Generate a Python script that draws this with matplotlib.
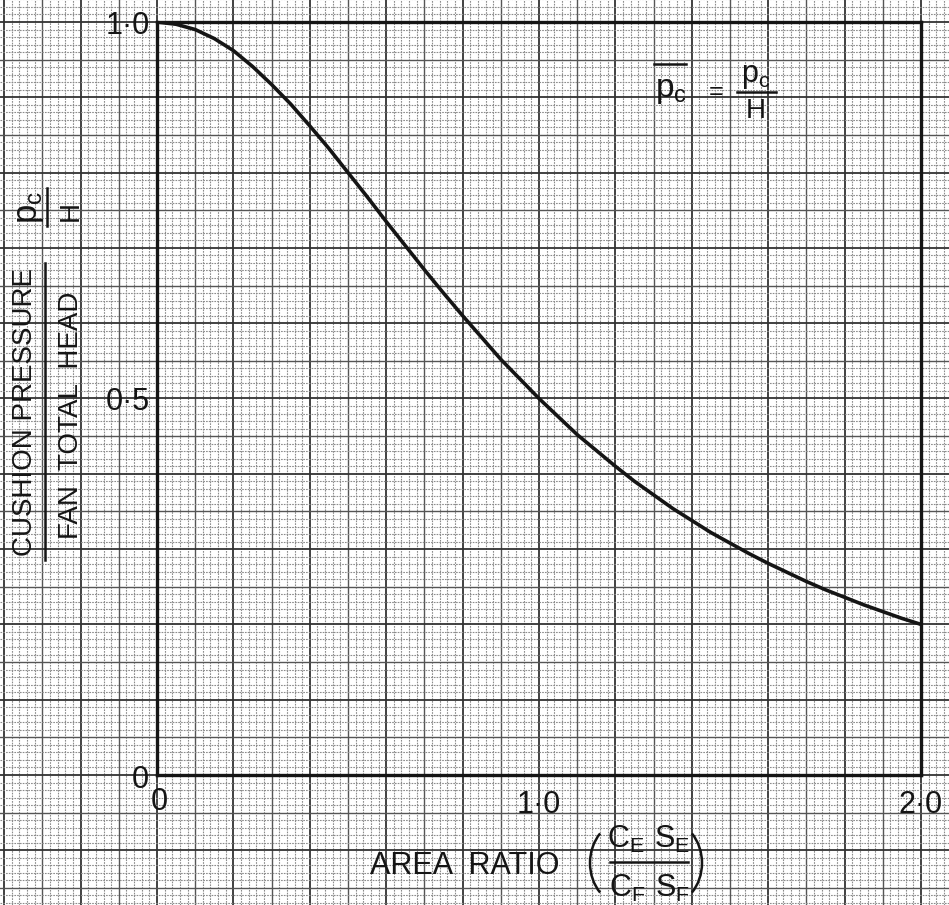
import numpy as np
import matplotlib
matplotlib.use("Agg")
import matplotlib.pyplot as plt
from matplotlib.lines import Line2D
from matplotlib.patches import Arc

plt.rcParams['font.family'] = ['Liberation Sans', 'DejaVu Sans']

# area ratio (CE SE / CF SF) and cushion pressure ratio pc / H
area_ratio = [0.0, 0.05, 0.1, 0.15, 0.2, 0.25, 0.3, 0.35, 0.4, 0.45, 0.5,
              0.55, 0.6, 0.65, 0.7, 0.75, 0.8, 0.85, 0.9, 0.95, 1.0,
              1.05, 1.1, 1.15, 1.2, 1.25, 1.3, 1.35, 1.4, 1.45, 1.5,
              1.55, 1.6, 1.65, 1.7, 1.75, 1.8, 1.85, 1.9, 1.95, 2.0]
pressure_ratio = [1.0, 0.997, 0.990, 0.978, 0.962, 0.941, 0.917, 0.891, 0.862, 0.832, 0.800,
                  0.768, 0.735, 0.703, 0.671, 0.640, 0.610, 0.581, 0.552, 0.526, 0.500,
                  0.476, 0.452, 0.431, 0.410, 0.390, 0.372, 0.354, 0.338, 0.322, 0.308,
                  0.294, 0.281, 0.269, 0.257, 0.246, 0.236, 0.226, 0.217, 0.208, 0.200]
x_ticks = [1.0, 2.0]
x_tick_labels = ["1·0", "2·0"]
y_ticks = [0.5, 1.0]
y_tick_labels = ["0·5", "1·0"]

W, H = 949, 905
fig = plt.figure(figsize=(W / 100, H / 100), dpi=100)
fig.patch.set_facecolor("white")

# plot frame in pixels of the original sheet
left, right, bottom, top = 157, 921, 775, 22
pos = [left / W, 1 - bottom / H, (right - left) / W, (bottom - top) / H]
xmin, xmax, ymin, ymax = 0.0, 2.0, 0.0, 1.0

# graph paper behind everything, on the same scale as the plot
bg = fig.add_axes([0, 0, 1, 1], zorder=0)
sx = (xmax - xmin) / (pos[2])
sy = (ymax - ymin) / (pos[3])
bx0 = xmin - pos[0] * sx
bx1 = xmax + (1 - pos[0] - pos[2]) * sx
by0 = ymin - pos[1] * sy
by1 = ymax + (1 - pos[1] - pos[3]) * sy
bg.set_xlim(bx0, bx1)
bg.set_ylim(by0, by1)
bg.axis("off")

def paper(step, lo, hi, vertical):
    for k in range(int(np.floor(lo / step)) - 1, int(np.ceil(hi / step)) + 2):
        v = k * step
        if k % 10 == 0:
            kw = dict(color="#333333", lw=1.3)
        elif k % 5 == 0:
            kw = dict(color="#555555", lw=1.0)
        else:
            kw = dict(color="#8c8c8c", lw=0.8, ls=(0, (1.5, 1.0)))
        if vertical:
            bg.axvline(v, **kw)
        else:
            bg.axhline(v, **kw)

paper(0.02, bx0, bx1, True)
paper(0.01, by0, by1, False)

# main plot
ax = fig.add_axes(pos, zorder=2)
ax.patch.set_alpha(0)
ax.plot(area_ratio, pressure_ratio, color="#151515", lw=2.6,
        solid_capstyle="round", solid_joinstyle="round")
ax.set_xlim(xmin, xmax)
ax.set_ylim(ymin, ymax)
for s in ax.spines.values():
    s.set_linewidth(2.4)
    s.set_color("#151515")
ax.set_xticks(x_ticks, x_tick_labels)
ax.set_yticks(y_ticks, y_tick_labels)
ax.tick_params(length=0, labelsize=22, labelcolor="#151515")
ax.tick_params(axis="x", pad=11)
ax.tick_params(axis="y", pad=5)

# labels and annotations, placed in sheet pixels
ann = fig.add_axes([0, 0, 1, 1], zorder=3)
ann.set_xlim(0, W)
ann.set_ylim(H, 0)
ann.axis("off")
ink = "#151515"

def txt(x, y, s, size=22, **kw):
    ann.text(x, y, s, fontsize=size, color=ink, ha=kw.pop("ha", "center"),
             va=kw.pop("va", "center"), **kw)

def bar(x0, y0, x1, y1, lw=1.8):
    ann.add_line(Line2D([x0, x1], [y0, y1], color=ink, lw=lw))

txt(140, 780, "0")
txt(159, 802, "0")

# x axis title
txt(370, 866, "AREA  RATIO", ha="left")
ann.add_patch(Arc((625, 863), 70, 84, theta1=130, theta2=230, color=ink, lw=1.8))
ann.add_patch(Arc((667, 863), 70, 84, theta1=-50, theta2=50, color=ink, lw=1.8))
txt(649, 839, r"$\mathregular{C_E\ S_E}$")
bar(610, 862, 688, 862)
txt(649, 888, r"$\mathregular{C_F\ S_F}$")

# y axis title
txt(25, 412, "CUSHION PRESSURE", size=20, rotation=90)
bar(45, 263, 45, 560)
txt(71, 415, "FAN  TOTAL  HEAD", size=20, rotation=90)
txt(29, 207, r"$\mathregular{p_c}$", size=25, rotation=90)
bar(47, 188, 47, 226)
txt(71, 211, "H", size=20, rotation=90)

# definition in the top right
txt(671, 90, r"$\mathregular{p_c}$", size=24)
bar(654, 64, 686, 64)
txt(716, 92, "=", size=18)
txt(756, 76, r"$\mathregular{p_c}$", size=22)
bar(737, 92, 776, 92)
txt(756, 111, "H", size=20)

fig.savefig("out.png", dpi=100)
